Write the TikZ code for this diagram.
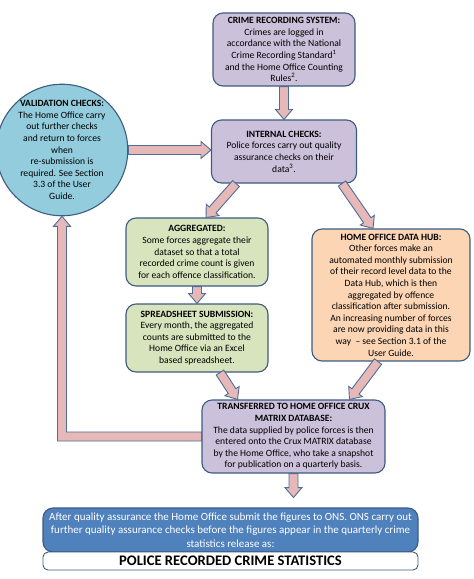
\documentclass[tikz,border=0pt]{standalone}
\usepackage{fontspec}
\setmainfont{Carlito}
\usetikzlibrary{calc}
\definecolor{lav}{HTML}{CCC1DA}
\definecolor{aqua}{HTML}{93CDDD}
\definecolor{olive}{HTML}{D7E4BD}
\definecolor{peach}{HTML}{FCD5B5}
\definecolor{bluebox}{HTML}{4F81BD}
\definecolor{edge}{HTML}{3E5B82}
\definecolor{arrfill}{HTML}{E6B9B8}
\definecolor{arredge}{HTML}{4F6D98}
\tikzset{
  box/.style={draw=edge, line width=1.1pt, rounded corners=10pt, align=center, inner sep=0pt,
    font=\fontsize{9.6}{11.6}\selectfont},
  barrow/.style={fill=arrfill, draw=arredge, line width=0.9pt, line join=miter},
}
\newcommand\blockarr[2]{%
  \path ($(#2)!10pt!(#1)$) coordinate (bahead);
  \draw[barrow] ($(#1)!4.5pt!90:(#2)$) -- ($(bahead)!4.5pt!90:(#2)$) -- ($(bahead)!8.5pt!90:(#2)$)
    -- (#2) -- ($(bahead)!8.5pt!-90:(#2)$) -- ($(bahead)!4.5pt!-90:(#2)$) -- ($(#1)!4.5pt!-90:(#2)$) -- cycle;}
\begin{document}
\begin{tikzpicture}[x=1pt,y=-1pt]
\useasboundingbox[fill=white] (0,0) rectangle (474,579);
% nodes
\node[box, fill=lav, minimum width=142pt, minimum height=73pt] (crime) at (284,49.5)
  {\textbf{CRIME RECORDING SYSTEM:}\\Crimes are logged in\\accordance with the National\\Crime Recording Standard\textsuperscript{1}\\and the Home Office Counting\\Rules\textsuperscript{2}.};
\node[box, fill=lav, minimum width=145pt, minimum height=63pt] (internal) at (284,151.5)
  {\textbf{INTERNAL CHECKS:}\\Police forces carry out quality\\assurance checks on their\\data\textsuperscript{3}.};
\node[box, circle, fill=aqua, minimum size=112pt, rounded corners=0pt] (val) at (62,150)
  {\textbf{VALIDATION CHECKS:}\\The Home Office carry\\out further checks\\and return to forces\\when\\re-submission is\\required. See Section\\3.3 of the User\\Guide.};
\node[box, fill=olive, minimum width=142pt, minimum height=68pt] (agg) at (197,252)
  {\textbf{AGGREGATED:}\\Some forces aggregate their\\dataset so that a total\\recorded crime count is given\\for each offence classification.};
\node[box, fill=olive, minimum width=142pt, minimum height=68pt] (spread) at (197,338)
  {\textbf{SPREADSHEET SUBMISSION:}\\Every month, the aggregated\\counts are submitted to the\\Home Office via an Excel\\based spreadsheet.};
\node[box, fill=peach, minimum width=158pt, minimum height=132pt] (hub) at (391,295)
  {\textbf{HOME OFFICE DATA HUB:}\\Other forces make an\\automated monthly submission\\of their record level data to the\\Data Hub, which is then\\aggregated by offence\\classification after submission.\\An increasing number of forces\\are now providing data in this\\way\ \ -- see Section 3.1 of the\\User Guide.};
\node[box, fill=lav, minimum width=183pt, minimum height=73pt] (crux) at (293.5,436.5)
  {\textbf{TRANSFERRED TO HOME OFFICE CRUX}\\\textbf{MATRIX DATABASE:}\\The data supplied by police forces is then\\entered onto the Crux MATRIX database\\by the Home Office, who take a snapshot\\for publication on a quarterly basis.};
\node[box, fill=bluebox, text=white, minimum width=375pt, minimum height=44pt,
  font=\fontsize{11}{13.5}\selectfont] (ons) at (230.5,530)
  {After quality assurance the Home Office submit the figures to ONS. ONS carry out\\further quality assurance checks before the figures appear in the quarterly crime\\statistics release as:};
\node[box, fill=white, minimum width=375pt, minimum height=18pt, rounded corners=5pt, line width=0.9pt,
  font=\fontsize{14.6}{16}\selectfont\bfseries] (prcs) at (230.5,561)
  {POLICE RECORDED CRIME STATISTICS};
% arrow end points
\coordinate (a1s) at ($(internal.south)+(-48,0)$);
\coordinate (a1e) at ($(agg.north)+(9,0)$);
\coordinate (a2s) at ($(internal.south)+(58,0)$);
\coordinate (a2e) at ($(hub.north)+(-18,0)$);
\coordinate (a3s) at ($(spread.south)+(23,0)$);
\coordinate (a3e) at ($(crux.north)+(-56,0)$);
\coordinate (a4s) at ($(hub.south)+(-13,0)$);
\coordinate (a4e) at ($(crux.north)+(56,0)$);
\coordinate (a5e) at (internal.west |- val.east);
\coordinate (outend) at ($(crux.south)+(0,24)$);
\coordinate (corner) at (val.south |- crux.west);
% arrows
\blockarr{crime.south}{internal.north}
\blockarr{val.east}{a5e}
\blockarr{a1s}{a1e}
\blockarr{a2s}{a2e}
\blockarr{agg.south}{spread.north}
\blockarr{a3s}{a3e}
\blockarr{a4s}{a4e}
\blockarr{crux.south}{outend}
\draw[barrow] ($(crux.west)+(0,-4.5)$) -- ($(corner)+(4.5,-4.5)$) -- ($(val.south)+(4.5,10)$)
  -- ($(val.south)+(8.5,10)$) -- (val.south) -- ($(val.south)+(-8.5,10)$) -- ($(val.south)+(-4.5,10)$)
  -- ($(corner)+(-4.5,4.5)$) -- ($(crux.west)+(0,4.5)$) -- cycle;
\end{tikzpicture}
\end{document}
